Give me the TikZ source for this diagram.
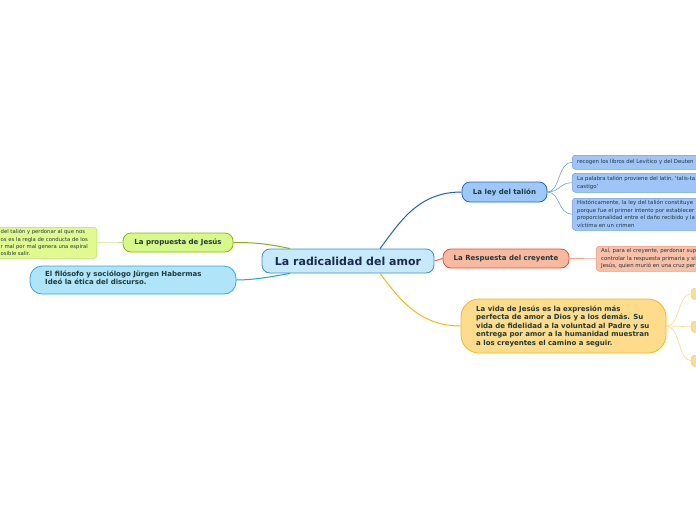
\documentclass[tikz,border=0pt]{standalone}
\usepackage{fontspec}
\setmainfont{DejaVu Sans}
\definecolor{txt}{HTML}{1E3A3A}
\definecolor{navy}{HTML}{1B2A4E}
\tikzset{
  x=1pt, y=-1pt,
  base/.style={rectangle, inner sep=0pt, align=left, font=\bfseries, text=txt},
  mainbox/.style={base, line width=0.8pt, rounded corners=8pt},
  leaf/.style={rectangle, inner sep=0pt, rounded corners=3pt, line width=0.5pt, text=txt},
  small/.style={anchor=north west, inner sep=0pt, align=left, font=\fontsize{5.4}{7.4}\selectfont, text=txt},
  bold/.style={anchor=north west, inner sep=0pt, align=left, font=\bfseries\fontsize{7}{8.5}\selectfont, text=txt},
  conn/.style={line width=1pt},
  thin/.style={line width=0.6pt},
}
\begin{document}
\begin{tikzpicture}
\useasboundingbox (0,0) rectangle (696,520);
\clip (0,0) rectangle (696,520);
\fill[white] (0,0) rectangle (696,520);

% central
\node[base, draw={rgb,255:red,58;green,143;blue,208}, fill={rgb,255:red,198;green,234;blue,249}, line width=0.8pt, rounded corners=8pt,
  minimum width=172pt, minimum height=24pt, text=navy, font=\bfseries\fontsize{11}{13}\selectfont] (c) at (348,261) {La radicalidad del amor};

% La ley del talion
\node[mainbox, draw={rgb,255:red,37;green,102;blue,200}, fill={rgb,255:red,158;green,200;blue,248},
  minimum width=85pt, minimum height=20pt, font=\bfseries\fontsize{7}{8}\selectfont] (ley) at (504.5,192) {La ley del talión};

% ley children
\tikzset{blueleaf/.style={leaf, draw={rgb,255:red,110;green,160;blue,232}, fill={rgb,255:red,160;green,196;blue,248},
  anchor=north west, minimum width=160pt}}
\node[blueleaf, minimum height=14pt] (l1) at (572,155) {};
\node[small, anchor=west] (l1t) at (577,162) {recogen los libros del Levítico y del Deuten};
\node[blueleaf, minimum height=19pt] (l2) at (572,173) {};
\node[small] (l2t) at (577,176.3) {La palabra talión proviene del latín, ‘talis-ta\\castigo’};
\node[blueleaf, minimum height=32pt] (l3) at (572,198) {};
\node[small] (l3t) at (577,200.3) {Históricamente, la ley del talión constituye\\porque fue el primer intento por establecer\\proporcionalidad entre el daño recibido y la\\víctima en un crimen};

\draw[thin, draw={rgb,255:red,110;green,160;blue,232}] (ley.east) .. controls (560,192) and (558,162) .. (l1.west);
\draw[thin, draw={rgb,255:red,110;green,160;blue,232}] (ley.east) .. controls (560,192) and (560,182.5) .. (l2.west);
\draw[thin, draw={rgb,255:red,110;green,160;blue,232}] (ley.east) .. controls (560,192) and (558,214) .. (l3.west);

% La Respuesta del creyente
\node[mainbox, draw={rgb,255:red,232;green,80;blue,42}, fill={rgb,255:red,249;green,185;blue,160},
  minimum width=126pt, minimum height=19pt, font=\bfseries\fontsize{7}{8}\selectfont] (resp) at (506,258.5) {La Respuesta del creyente};
\node[leaf, draw={rgb,255:red,240;green,154;blue,128}, fill={rgb,255:red,248;green,192;blue,168}, anchor=north west,
  minimum width=160pt, minimum height=25pt] (r1) at (596,246) {};
\node[small] (r1t) at (601,248.3) {Así, para el creyente, perdonar sup\\controlar la respuesta primaria y si\\Jesús, quien murió en una cruz per};
\draw[thin, draw={rgb,255:red,248;green,160;blue,140}] (resp.east) .. controls (582,258.5) and (584,258.5) .. (r1.west);

% yellow
\node[base, draw={rgb,255:red,248;green,184;blue,24}, fill={rgb,255:red,254;green,220;blue,140}, line width=0.8pt, rounded corners=18pt,
  minimum width=205pt, minimum height=54pt] (y) at (563.5,326) {};
\node[bold] (yt) at (476,305.3)
  {La vida de Jesús es la expresión más\\perfecta de amor a Dios y a los demás. Su\\vida de fidelidad a la voluntad al Padre y su\\entrega por amor a la humanidad muestran\\a los creyentes el camino a seguir.};
\tikzset{yleaf/.style={leaf, draw={rgb,255:red,248;green,208;blue,128}, fill={rgb,255:red,254;green,220;blue,140}, anchor=north west, minimum width=20pt, minimum height=11pt}}
\node[yleaf] (y1) at (691,288) {};
\node[yleaf] (y2) at (691,321) {};
\node[yleaf] (y3) at (691,355) {};
\draw[thin, draw={rgb,255:red,252;green,218;blue,140}] (y.east) .. controls (680,326) and (678,293.5) .. (y1.west);
\draw[thin, draw={rgb,255:red,252;green,218;blue,140}] (y.east) -- (y2.west);
\draw[thin, draw={rgb,255:red,252;green,218;blue,140}] (y.east) .. controls (680,326) and (678,360.5) .. (y3.west);

% La propuesta de Jesus
\node[mainbox, draw={rgb,255:red,136;green,184;blue,24}, fill={rgb,255:red,216;green,248;blue,138},
  minimum width=110pt, minimum height=19pt, font=\bfseries\fontsize{7}{8}\selectfont] (prop) at (178,242.5) {La propuesta de Jesús};
\node[leaf, draw={rgb,255:red,184;green,224;blue,96}, fill={rgb,255:red,224;green,250;blue,144}, anchor=north east,
  minimum width=120pt, minimum height=31pt] (p1) at (97,227) {};
\node[small, font=\fontsize{5.3}{7.3}\selectfont] (p1t) at (0.5,229.3)
  {del talión y perdonar al que nos\\os es la regla de conducta de los\\r mal por mal genera una espiral\\osible salir.};
\draw[thin, draw={rgb,255:red,200;green,232;blue,140}] (prop.west) -- (p1.east);

% Habermas
\node[base, draw={rgb,255:red,48;green,168;blue,232}, fill={rgb,255:red,176;green,228;blue,248}, line width=0.8pt, rounded corners=12pt,
  minimum width=206pt, minimum height=28pt] (hab) at (133,280) {};
\node[bold, font=\bfseries\fontsize{7}{8.3}\selectfont] (habt) at (45,270.8)
  {El filósofo y sociólogo Jürgen Habermas\\Ideó la ética del discurso.};

% main connectors
\draw[conn, draw={rgb,255:red,26;green,95;blue,208}] ([xshift=32pt]c.north) .. controls (400,222) and (418,192) .. (ley.west);
\draw[conn, draw={rgb,255:red,240;green,100;blue,60}] (c.east) -- (resp.west);
\draw[conn, draw={rgb,255:red,248;green,184;blue,24}] ([xshift=32pt]c.south) .. controls (400,300) and (420,326) .. (y.west);
\draw[conn, draw={rgb,255:red,136;green,176;blue,16}] ([xshift=-58pt]c.north) .. controls (265,243) and (250,242.5) .. (prop.east);
\draw[conn, draw={rgb,255:red,30;green,160;blue,224}] ([xshift=-58pt]c.south) .. controls (265,278) and (250,280) .. (hab.east);
\end{tikzpicture}
\end{document}
